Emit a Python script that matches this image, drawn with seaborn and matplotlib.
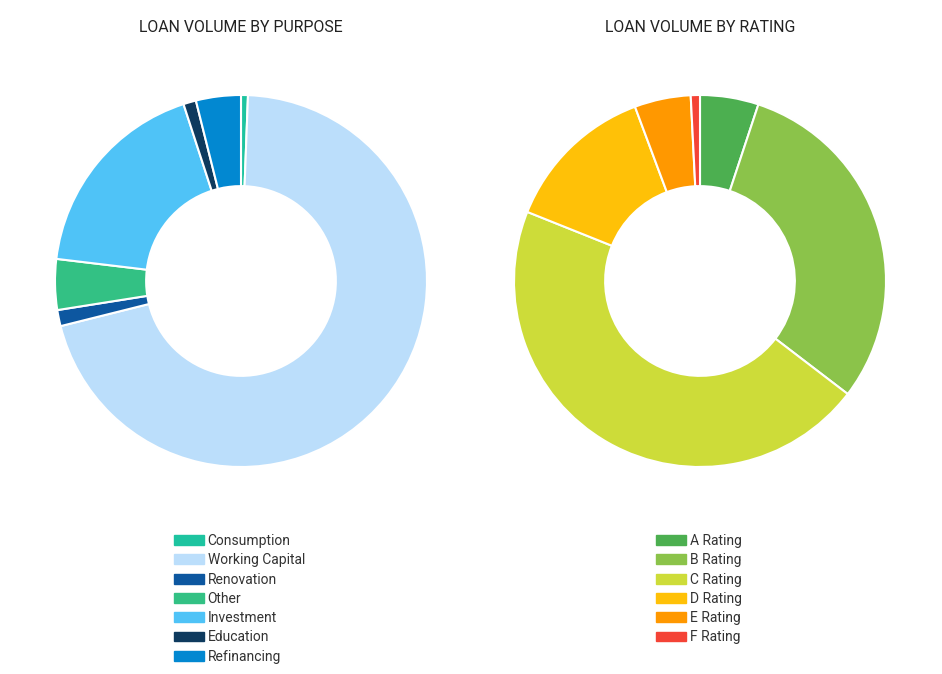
import matplotlib
matplotlib.use("Agg")
import matplotlib.pyplot as plt
import seaborn as sns

purpose_labels = ["Consumption", "Working Capital", "Renovation", "Other", "Investment", "Education", "Refinancing"]
purpose_values = [0.6, 70.5, 1.4, 4.4, 18.1, 1.1, 3.9]
purpose_colors = ["#1dc4a0", "#bbdefb", "#0d57a0", "#33c184", "#4fc3f7", "#0e3a5e", "#0288d1"]

rating_labels = ["A Rating", "B Rating", "C Rating", "D Rating", "E Rating", "F Rating"]
rating_values = [5.1, 30.4, 45.8, 13.3, 4.9, 0.8]
rating_colors = ["#4caf50", "#8bc34a", "#cddc39", "#ffc107", "#ff9800", "#f44336"]

sns.set_theme(style="white")
plt.rcParams['font.family'] = ['Roboto', 'DejaVu Sans']

W, H = 942, 674
fig = plt.figure(figsize=(W / 100, H / 100), dpi=100)

def donut(cx, cy, r, values, labels, colors, title, leg_x):
    ax = fig.add_axes([(cx - r) / W, (H - cy - r) / H, 2 * r / W, 2 * r / H])
    ax.pie(values, colors=colors, startangle=90, counterclock=False, radius=1,
           wedgeprops=dict(width=0.49, edgecolor="white", linewidth=1.5))
    ax.set_xlim(-1, 1)
    ax.set_ylim(-1, 1)
    ax.set_aspect("equal")
    ax.axis("off")
    fig.text(cx / W, 1 - 27 / H, title, ha="center", va="center", fontsize=11.4, color="#222222")
    handles = [plt.Rectangle((0, 0), 1, 1, color=c) for c in colors]
    fs = 10
    fig.legend(handles, labels, loc="upper left", bbox_to_anchor=(leg_x / W, 1 - 534 / H),
               frameon=False, fontsize=fs, handlelength=2.15, handleheight=0.72,
               handletextpad=0.28, labelspacing=0.38, borderpad=0, borderaxespad=0,
               labelcolor="#333333")

donut(241, 281, 186, purpose_values, purpose_labels, purpose_colors, "LOAN VOLUME BY PURPOSE", 174)
donut(700, 281, 186, rating_values, rating_labels, rating_colors, "LOAN VOLUME BY RATING", 656)

fig.savefig("out.png", dpi=100)
